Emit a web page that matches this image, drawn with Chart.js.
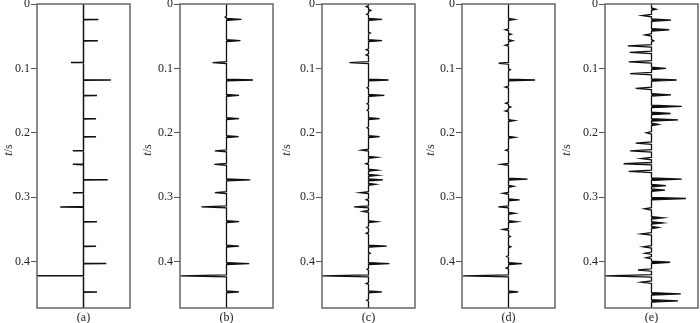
<!DOCTYPE html>
<html>
<head>
<meta charset="utf-8">
<script src="https://cdn.jsdelivr.net/npm/chart.js@4.4.1/dist/chart.umd.min.js"></script>
<style>
  html, body { margin: 0; padding: 0; background: #fff; overflow: hidden; }
  #wrap { position: relative; width: 700px; height: 323px; overflow: hidden; }
  canvas { position: absolute; top: 0; }
</style>
</head>
<body>
<div id="wrap"></div>
<script>
const yTicks = [0, 0.1, 0.2, 0.3, 0.4];
const tMax = 0.472;
const panelLabels = ['(a)', '(b)', '(c)', '(d)', '(e)'];

// spike times (s) and amplitudes, one pair of arrays per trace
const tA = [0.024, 0.057, 0.091, 0.118, 0.142, 0.178, 0.206, 0.228, 0.249, 0.273, 0.293, 0.315, 0.338, 0.376, 0.403, 0.422, 0.447];
const ampA = [0.32, 0.31, -0.27, 0.59, 0.29, 0.27, 0.27, -0.23, -0.23, 0.52, -0.23, -0.50, 0.29, 0.27, 0.49, -1.0, 0.29];

const tB = [0.020, 0.024, 0.057, 0.091, 0.118, 0.142, 0.178, 0.206, 0.228, 0.249, 0.273, 0.293, 0.315, 0.338, 0.376, 0.403, 0.422, 0.447];
const ampB = [-0.03, 0.32, 0.30, -0.30, 0.57, 0.27, 0.27, 0.26, -0.25, -0.26, 0.51, -0.25, -0.54, 0.27, 0.27, 0.49, -0.99, 0.27];

const tC = [0.004, 0.010, 0.016, 0.024, 0.045, 0.057, 0.071, 0.079, 0.091, 0.118, 0.130, 0.142, 0.155, 0.165, 0.178, 0.192, 0.206, 0.227, 0.238, 0.248, 0.258, 0.266, 0.273, 0.280, 0.293, 0.304, 0.315, 0.322, 0.338, 0.347, 0.356, 0.376, 0.387, 0.403, 0.412, 0.422, 0.434, 0.447, 0.460];
const ampC = [-0.05, 0.05, -0.04, 0.29, 0.04, 0.29, -0.05, -0.05, -0.41, 0.43, -0.03, 0.34, -0.03, -0.03, 0.24, -0.03, 0.24, -0.15, 0.18, -0.06, 0.19, 0.20, 0.31, 0.15, -0.18, -0.05, -0.31, -0.12, 0.18, -0.04, -0.05, 0.39, 0.04, 0.45, -0.03, -1.0, -0.05, 0.29, -0.04];

const tD = [0.024, 0.040, 0.047, 0.057, 0.064, 0.092, 0.102, 0.118, 0.129, 0.154, 0.160, 0.166, 0.181, 0.207, 0.227, 0.249, 0.272, 0.283, 0.294, 0.304, 0.315, 0.325, 0.338, 0.350, 0.361, 0.377, 0.392, 0.403, 0.410, 0.422, 0.447];
const ampD = [0.13, -0.07, 0.06, 0.09, -0.07, -0.21, 0.04, 0.57, -0.07, -0.06, 0.05, -0.07, 0.13, 0.14, -0.06, -0.16, 0.41, 0.11, -0.12, 0.24, -0.22, 0.14, 0.18, -0.12, 0.04, 0.05, -0.04, 0.29, -0.05, -0.98, 0.21];

const tE = [0.008, 0.018, 0.025, 0.040, 0.048, 0.057, 0.065, 0.075, 0.090, 0.100, 0.108, 0.118, 0.131, 0.141, 0.159, 0.170, 0.180, 0.187, 0.200, 0.216, 0.228, 0.240, 0.248, 0.260, 0.272, 0.282, 0.289, 0.302, 0.318, 0.332, 0.340, 0.347, 0.357, 0.377, 0.387, 0.394, 0.401, 0.413, 0.422, 0.432, 0.450, 0.461];
const ampE = [0.10, -0.20, 0.42, 0.38, -0.14, 0.05, -0.51, -0.47, -0.49, 0.31, -0.46, 0.54, -0.34, 0.42, 0.65, 0.41, 0.57, 0.15, -0.11, -0.34, -0.46, -0.22, -0.60, -0.49, 0.65, 0.31, 0.29, 0.74, -0.15, 0.25, 0.24, 0.15, -0.22, -0.18, -0.14, -0.12, 0.40, -0.29, -1.0, -0.22, 0.63, 0.57];

const panels = [
  { times: tA, amps: ampA, w: 0.0004, lw: 1.5 },
  { times: tB, amps: ampB, w: 0.0015, lw: 1.3 },
  { times: tC, amps: ampC, w: 0.0015, lw: 1.3 },
  { times: tD, amps: ampD, w: 0.0015, lw: 1.3 },
  { times: tE, amps: ampE, w: 0.0019, lw: 1.3 }
];
const boxLeft = [37, 180, 322, 462, 605];
const titleX = [9, 148, 287, 431, 567];
const axisW = 46;

function buildTrace(times, amps, w) {
  const pts = [{ x: 0, y: 0 }];
  for (let i = 0; i < times.length; i++) {
    pts.push({ x: 0, y: times[i] - w });
    pts.push({ x: amps[i], y: times[i] });
    pts.push({ x: 0, y: times[i] + w });
  }
  pts.push({ x: 0, y: tMax });
  return pts;
}

const boxPlugin = {
  id: 'box',
  afterDraw(chart, args, opts) {
    const { ctx, chartArea: a } = chart;
    ctx.save();
    ctx.strokeStyle = '#666';
    ctx.lineWidth = 1.5;
    ctx.strokeRect(a.left, a.top, a.right - a.left, a.bottom - a.top);

    ctx.fillStyle = '#222';
    ctx.font = '12px "Liberation Serif"';
    ctx.textAlign = 'center';
    ctx.textBaseline = 'middle';
    ctx.fillText(opts.label, (a.left + a.right) / 2, 318);

    // "t/s" with italic t
    ctx.translate(opts.titleX, 150);
    ctx.rotate(-Math.PI / 2);
    ctx.textAlign = 'left';
    ctx.font = 'italic 12px "Liberation Serif"';
    const w1 = ctx.measureText('t').width;
    ctx.font = '12px "Liberation Serif"';
    const w2 = ctx.measureText('/s').width;
    const x0 = -(w1 + w2) / 2;
    ctx.font = 'italic 12px "Liberation Serif"';
    ctx.fillText('t', x0, 0);
    ctx.font = '12px "Liberation Serif"';
    ctx.fillText('/s', x0 + w1, 0);
    ctx.restore();
  }
};

const wrap = document.getElementById('wrap');

panels.forEach((p, i) => {
  const canvas = document.createElement('canvas');
  canvas.width = axisW + 93 + 3;
  canvas.height = 323;
  canvas.style.left = (boxLeft[i] - axisW) + 'px';
  wrap.appendChild(canvas);

  const trace = buildTrace(p.times, p.amps, p.w);
  const positive = trace.map(pt => ({ x: Math.max(pt.x, 0), y: pt.y }));

  new Chart(canvas.getContext('2d'), {
    type: 'line',
    data: {
      datasets: [
        {
          data: trace,
          borderColor: '#111',
          borderWidth: p.lw,
          pointRadius: 0,
          tension: 0,
          fill: false
        },
        {
          data: positive,
          borderWidth: 0,
          borderColor: 'rgba(0,0,0,0)',
          backgroundColor: '#000',
          pointRadius: 0,
          tension: 0,
          fill: 'origin'
        }
      ]
    },
    options: {
      responsive: false,
      animation: false,
      indexAxis: 'y',
      layout: { padding: { top: 4, bottom: 15, right: 3, left: 0 } },
      plugins: {
        legend: { display: false },
        tooltip: { enabled: false },
        box: { label: panelLabels[i], titleX: titleX[i] - (boxLeft[i] - axisW) }
      },
      scales: {
        x: {
          type: 'linear',
          display: false,
          min: -1,
          max: 1
        },
        y: {
          type: 'linear',
          reverse: true,
          min: 0,
          max: tMax,
          afterBuildTicks: scale => {
            scale.ticks = yTicks.map(v => ({ value: v }));
          },
          afterFit: scale => {
            scale.width = axisW;
            scale.paddingTop = 0;
            scale.paddingBottom = 0;
          },
          grid: { drawOnChartArea: false, drawTicks: true, tickLength: 6, color: '#555', lineWidth: 1 },
          border: { display: false },
          ticks: {
            padding: 1,
            color: '#222',
            font: { family: 'Liberation Serif', size: 12 },
            callback: v => String(v)
          }
        }
      }
    },
    plugins: [boxPlugin]
  });
});
</script>
</body>
</html>
